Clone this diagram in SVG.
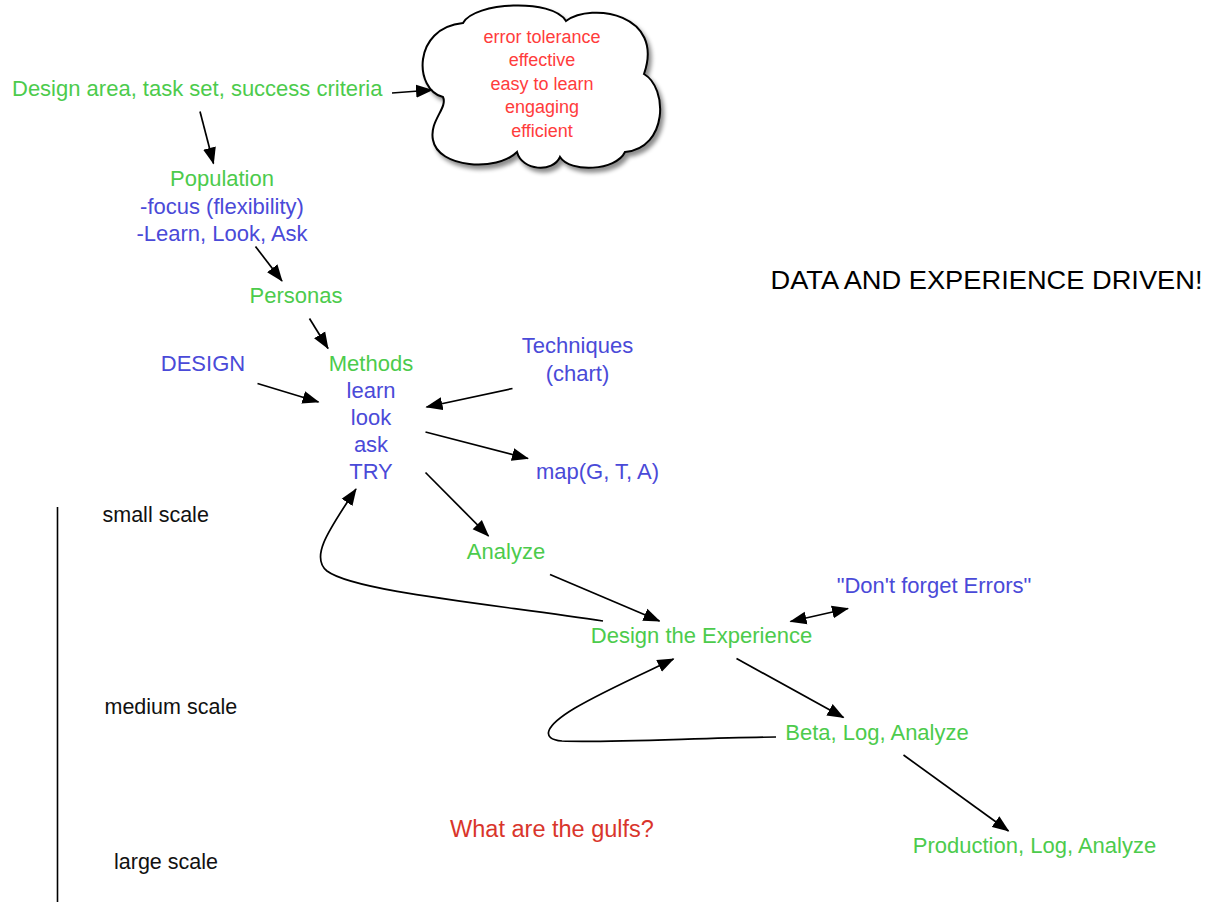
<svg xmlns="http://www.w3.org/2000/svg" width="1210" height="902" viewBox="0 0 1210 902">
<defs>
<style>
text{font-family:"Liberation Sans",Arial,Helvetica,sans-serif;font-size:22px}
.g{fill:#4ccb4c}
.b{fill:#4a4ad8}
.k{fill:#000}
.c{fill:#ff3c3c;font-size:18px;text-anchor:middle}
.m{text-anchor:middle}
.s{font-size:21.5px;fill:#111}
.ln{fill:none;stroke:#000;stroke-width:1.7}
</style>
<marker id="ah" markerUnits="userSpaceOnUse" markerWidth="18" markerHeight="14" refX="16" refY="7" orient="auto-start-reverse" viewBox="0 0 18 14">
<path d="M0,0.5 L17,7 L0,13.5 Z" fill="#000"/>
</marker>
<filter id="sh" x="-10%" y="-10%" width="130%" height="130%">
<feDropShadow dx="3" dy="4" stdDeviation="2" flood-color="#000" flood-opacity="0.45"/>
</filter>
</defs>
<rect width="1210" height="902" fill="#fff"/>

<g id="cloud">
<path d="M443,97 C414,90 412,28 463,23 C474,2 552,-2 566,21 C592,2 665,14 644,74 C668,88 668,148 625,152 C616,171 570,173 560,157 C553,173 522,171 517,152 C497,172 438,168 433,140 C429,121 448,108 443,97 Z" fill="#fff" stroke="#000" stroke-width="2" filter="url(#sh)"/>
<text class="c" x="542" y="42.5">error tolerance</text>
<text class="c" x="542" y="66">effective</text>
<text class="c" x="542" y="89.5">easy to learn</text>
<text class="c" x="542" y="113">engaging</text>
<text class="c" x="542" y="136.5">efficient</text>
</g>

<g id="design-area"><text class="g" x="12" y="96">Design area, task set, success criteria</text></g>
<g id="population">
<text class="g m" x="222" y="186">Population</text>
<text class="b m" x="222" y="213.5">-focus (flexibility)</text>
<text class="b m" x="222" y="241">-Learn, Look, Ask</text>
</g>
<g id="personas"><text class="g m" x="296" y="303">Personas</text></g>
<g id="design"><text class="b m" x="203" y="371">DESIGN</text></g>
<g id="methods">
<text class="g m" x="371" y="371">Methods</text>
<text class="b m" x="371" y="398">learn</text>
<text class="b m" x="371" y="425">look</text>
<text class="b m" x="371" y="452">ask</text>
<text class="b m" x="371" y="479">TRY</text>
</g>
<g id="techniques">
<text class="b m" x="577.5" y="353">Techniques</text>
<text class="b m" x="577.5" y="381">(chart)</text>
</g>
<g id="map"><text class="b" x="536" y="479">map(G, T, A)</text></g>
<g id="analyze"><text class="g m" x="506" y="559">Analyze</text></g>
<g id="design-experience"><text class="g m" x="701.5" y="642.5">Design the Experience</text></g>
<g id="errors"><text class="b m" x="934" y="593">"Don't forget Errors"</text></g>
<g id="beta"><text class="g m" x="877" y="740">Beta, Log, Analyze</text></g>
<g id="production"><text class="g m" x="1034.5" y="852.5">Production, Log, Analyze</text></g>
<g id="gulfs"><text x="552" y="836.5" style="font-size:23.5px;fill:#d9352b;text-anchor:middle">What are the gulfs?</text></g>
<g id="title"><text class="k" x="770.5" y="288.5" style="font-size:25px" textLength="432" lengthAdjust="spacingAndGlyphs">DATA AND EXPERIENCE DRIVEN!</text></g>

<g id="scale">
<line x1="57.5" y1="507" x2="57.5" y2="902" stroke="#000" stroke-width="1.6"/>
<text class="s" x="102.5" y="521.5">small scale</text>
<text class="s" x="104.5" y="713.5">medium scale</text>
<text class="s" x="114" y="869">large scale</text>
</g>

<g id="connectors">
<path class="ln" d="M392,93 L432,90" marker-end="url(#ah)"/>
<path class="ln" d="M200,111.5 L213.5,163.5" marker-end="url(#ah)"/>
<path class="ln" d="M255.5,246.5 L282,281" marker-end="url(#ah)"/>
<path class="ln" d="M309.5,318.5 L328,348.5" marker-end="url(#ah)"/>
<path class="ln" d="M257.5,383.5 L318.5,402" marker-end="url(#ah)"/>
<path class="ln" d="M512.5,388.5 L426.5,407" marker-end="url(#ah)"/>
<path class="ln" d="M425.5,432 L528,458.5" marker-end="url(#ah)"/>
<path class="ln" d="M425.5,472.5 L488.5,536" marker-end="url(#ah)"/>
<path class="ln" d="M603,621 C500,605 355,592 327,571 C311,558 325,535 356,489" marker-end="url(#ah)"/>
<path class="ln" d="M550,574.5 L659.5,621" marker-end="url(#ah)"/>
<path class="ln" d="M790.5,621.5 L848,608.5" marker-start="url(#ah)" marker-end="url(#ah)"/>
<path class="ln" d="M736.5,658.5 L843.5,717.5" marker-end="url(#ah)"/>
<path class="ln" d="M776,737 C700,738 600,743 562,741 C540,739 545,726 575,708 C600,693 640,675 673.5,659" marker-end="url(#ah)"/>
<path class="ln" d="M903.5,755 L1008.5,831" marker-end="url(#ah)"/>
</g>
</svg>
